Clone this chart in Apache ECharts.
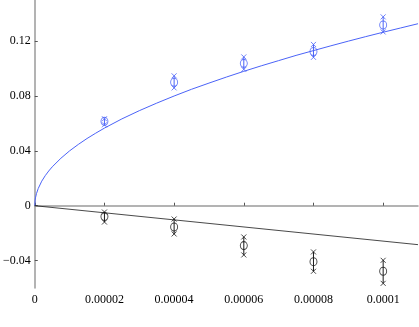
<!DOCTYPE html>
<html><head><meta charset="utf-8">
<script src="https://cdn.jsdelivr.net/npm/echarts@6/dist/echarts.min.js"></script>
<style>html,body{margin:0;padding:0;background:#fff}#c{width:419px;height:327px}</style>
</head><body><div id="c"></div>
<script>
// Measurement positions
const xs = [0.00002, 0.00004, 0.00006, 0.00008, 0.0001];
// Blue series: upper / mean / lower
const blueHigh = [0.0634, 0.0947, 0.1085, 0.1176, 0.1377];
const blueMean = [0.0615, 0.0900, 0.1038, 0.1125, 0.1318];
const blueLow  = [0.0590, 0.0859, 0.0994, 0.1082, 0.1267];
// Black series: upper / mean / lower
const blackHigh = [-0.0046, -0.0097, -0.0228, -0.0337, -0.0398];
const blackMean = [-0.0078, -0.0155, -0.0291, -0.0408, -0.0478];
const blackLow  = [-0.0119, -0.0206, -0.0359, -0.0478, -0.0566];
// Blue fitted curve
const curveX = [0, 0.0000001, 0.0000002, 0.0000005, 0.000001, 0.000002, 0.000003, 0.000004, 0.000005, 0.0000075,
  0.00001, 0.0000125, 0.000015, 0.0000175, 0.00002, 0.000025, 0.00003, 0.000035, 0.00004, 0.000045, 0.00005,
  0.000055, 0.00006, 0.000065, 0.00007, 0.000075, 0.00008, 0.000085, 0.00009, 0.000095, 0.0001, 0.000105, 0.00011];
const curveY = [0, 0.0040, 0.0057, 0.0089, 0.0126, 0.0179, 0.0219, 0.0253, 0.0283, 0.0346,
  0.0400, 0.0447, 0.0490, 0.0529, 0.0566, 0.0633, 0.0693, 0.0748, 0.0800, 0.0849, 0.0894,
  0.0938, 0.0980, 0.1020, 0.1058, 0.1096, 0.1131, 0.1166, 0.1200, 0.1233, 0.1265, 0.1296, 0.1327];
// Black fitted line
const lineX = [0, 0.00011];
const lineY = [0, -0.0284];
// Ticks
const xTickValues = [0, 0.00002, 0.00004, 0.00006, 0.00008, 0.0001];
const xTickLabels = ['0', '0.00002', '0.00004', '0.00006', '0.00008', '0.0001'];
const yTickValues = [-0.04, 0, 0.04, 0.08, 0.12];
const yTickLabels = ['\u22120.04', '0', '0.04', '0.08', '0.12'];

const BLUE = '#4b63f7';
const BLACK = '#1a1a1a';
const CROSS = 'path://M0,0L10,10M10,0L0,10';
const FONT = {fontFamily: 'Liberation Serif', fontSize: 12, color: '#000'};

function pairs(xArr, yArr){ return xArr.map((x,i)=>[x, yArr[i]]); }
function errBar(color, lo, hi){
  return {
    type: 'custom', silent: true, z: 3,
    data: xs.map((x,i)=>[x, lo[i], hi[i]]),
    renderItem: function(params, api){
      const a = api.coord([api.value(0), api.value(1)]);
      const b = api.coord([api.value(0), api.value(2)]);
      return {type:'line', shape:{x1:a[0], y1:a[1], x2:b[0], y2:b[1]}, style:{stroke:color, lineWidth:1}};
    }
  };
}
function crosses(color, vals){
  return {type:'scatter', data: pairs(xs, vals), symbol: CROSS, symbolSize: 5, z: 4, silent: true,
    itemStyle:{color:'none', borderColor: color, borderWidth: 1}};
}
function circles(color, vals){
  return {type:'scatter', data: pairs(xs, vals), symbol: 'circle', symbolSize: [7,8], z: 5, silent: true,
    itemStyle:{color:'rgba(255,255,255,0)', borderColor: color, borderWidth: 1}};
}

const chart = echarts.init(document.getElementById('c'), null, {renderer: 'canvas'});
chart.setOption({
  animation: false,
  backgroundColor: '#fff',
  grid: {left: 33, right: 1, top: 0, bottom: 39},
  xAxis: {
    type: 'value', min: 0, max: 0.00011,
    splitLine: {show: false},
    axisLine: {show: true, lineStyle: {color: '#9a9a9a', width: 1.5}},
    axisTick: {show: true, inside: true, length: 3, lineStyle: {color: '#555'}, customValues: xTickValues},
    axisLabel: Object.assign({margin: 6, customValues: xTickValues,
      formatter: v => { const i = xTickValues.findIndex(t => Math.abs(t - v) < 1e-9); return i >= 0 ? xTickLabels[i] : ''; }}, FONT)
  },
  yAxis: {
    type: 'value', min: -0.06, max: 0.15,
    splitLine: {show: false},
    axisLine: {show: true, onZero: false, lineStyle: {color: '#9a9a9a', width: 1.5}},
    axisTick: {show: true, inside: true, length: 3, lineStyle: {color: '#555'}, customValues: yTickValues},
    axisLabel: Object.assign({margin: 4, customValues: yTickValues,
      formatter: v => { const i = yTickValues.findIndex(t => Math.abs(t - v) < 1e-9); return i >= 0 ? yTickLabels[i] : ''; }}, FONT)
  },
  series: [
    {type: 'line', data: pairs(curveX, curveY), showSymbol: false, smooth: false, z: 2,
      lineStyle: {color: BLUE, width: 1}},
    {type: 'line', data: pairs(lineX, lineY), showSymbol: false, z: 2, lineStyle: {color: BLACK, width: 0.8}},
    errBar(BLUE, blueLow, blueHigh),
    errBar(BLACK, blackLow, blackHigh),
    crosses(BLUE, blueHigh), crosses(BLUE, blueLow), circles(BLUE, blueMean),
    crosses(BLACK, blackHigh), crosses(BLACK, blackLow), circles(BLACK, blackMean)
  ]
});
</script></body></html>
